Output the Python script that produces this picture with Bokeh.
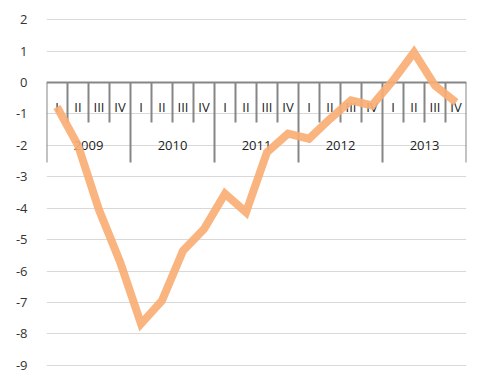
from bokeh.plotting import figure
from bokeh.models import Range1d, FixedTicker, ColumnDataSource
from bokeh.core.properties import value
from bokeh.embed import file_html
from bokeh.resources import INLINE

years = ["2009", "2010", "2011", "2012", "2013"]
quarters = ["I", "II", "III", "IV"]
values = [-0.78, -2.0, -4.05, -5.7, -7.68, -6.94, -5.35, -4.66, -3.54, -4.13,
          -2.22, -1.63, -1.79, -1.16, -0.57, -0.73, 0.06, 0.96, -0.1, -0.63]
y_ticks = list(range(-9, 3))

n = len(values)
FONT = value("Open Sans")

p = figure(output_backend="svg", toolbar_location=None,
           frame_width=420, frame_height=352,
           x_range=Range1d(0, n), y_range=Range1d(-9.1, 2.1),
           min_border_left=46, min_border_right=20, min_border_top=16, min_border_bottom=10)
p.outline_line_color = None
p.xaxis.visible = False
p.xgrid.visible = False
p.yaxis.ticker = FixedTicker(ticks=y_ticks)
p.yaxis.major_label_overrides = {t: str(t) for t in y_ticks}
p.ygrid.ticker = FixedTicker(ticks=y_ticks)
p.ygrid.grid_line_color = "#D9D9D9"
p.ygrid.grid_line_width = 1
p.yaxis.axis_line_color = None
p.yaxis.major_tick_line_color = None
p.yaxis.minor_tick_line_color = None
p.yaxis.major_label_standoff = 13
p.yaxis.major_label_text_font = "Open Sans"
p.yaxis.major_label_text_font_size = "13px"
p.yaxis.major_label_text_color = "#333333"

# category axis at y = 0
axis_col = "#868686"
p.segment(x0=[0], y0=[0], x1=[n], y1=[0], line_color=axis_col, line_width=2)
qx, qy1 = [], []
for k in range(n + 1):
    qx.append(k)
    qy1.append(-2.545 if k % len(quarters) == 0 else -1.27)
p.segment(x0=qx, y0=[0] * len(qx), x1=qx, y1=qy1, line_color=axis_col, line_width=2)

qlabels = [quarters[i % len(quarters)] for i in range(n)]
p.text(x=[i + 0.5 for i in range(n)], y=[-0.764] * n, text=qlabels,
       text_align="center", text_baseline="middle", text_font=FONT,
       text_font_size="13px", text_color="#222222")
p.text(x=[len(quarters) * j + len(quarters) / 2 for j in range(len(years))],
       y=[-2.0] * len(years), text=years,
       text_align="center", text_baseline="middle", text_font=FONT,
       text_font_size="13px", text_color="#222222")

src = ColumnDataSource(dict(x=[i + 0.5 for i in range(n)], y=values))
p.line("x", "y", source=src, line_color="#F9AE74", line_width=8, line_alpha=0.92,
       line_join="miter")

open("out.html", "w").write(file_html(p, INLINE))
